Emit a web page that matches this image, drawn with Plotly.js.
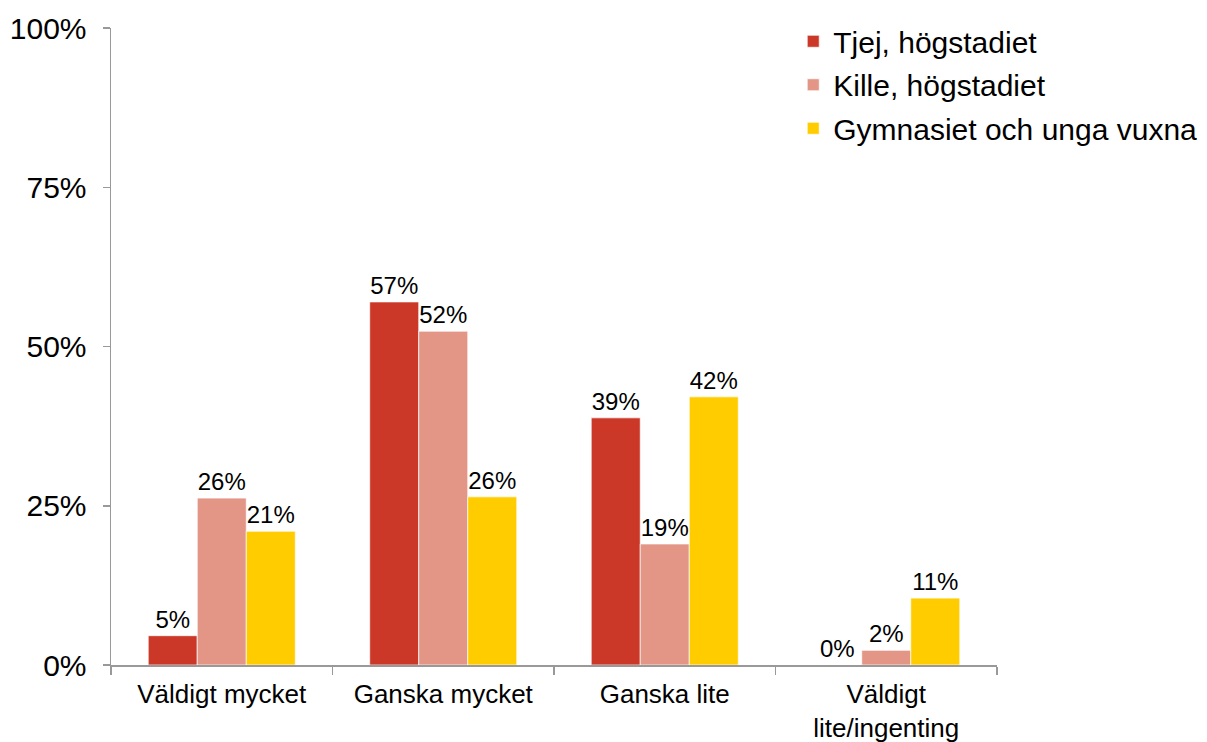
<!DOCTYPE html>
<html>
<head>
<meta charset="utf-8">
<script src="https://cdn.plot.ly/plotly-3.0.1.min.js"></script>
<style>html,body{margin:0;padding:0;background:#fff;}#chart{width:1207px;height:742px;}</style>
</head>
<body>
<div id="chart"></div>
<script>
var categories = ["Väldigt mycket", "Ganska mycket", "Ganska lite", "Väldigt<br>lite/ingenting"];
var seriesNames = ["Tjej, högstadiet", "Kille, högstadiet", "Gymnasiet och unga vuxna"];
var tjej = [0.046, 0.570, 0.388, 0.0];
var kille = [0.262, 0.524, 0.190, 0.023];
var gymnasiet = [0.210, 0.264, 0.421, 0.105];
var colors = ["#CB3828", "#E39586", "#FFCC00"];
var tickVals = [0, 0.25, 0.5, 0.75, 1];
var tickText = ["0%", "25%", "50%", "75%", "100%"];

var font = "Liberation Sans, Arial, Helvetica, sans-serif";
var values = [tjej, kille, gymnasiet];
var traces = values.map(function (v, i) {
  return {
    type: "bar",
    x: categories,
    y: v,
    name: seriesNames[i],
    legendgroup: "g" + i,
    marker: { color: colors[i], line: { color: "rgba(255,255,255,0.7)", width: 1 } },
    texttemplate: "%{y:.0%}",
    textposition: "outside",
    cliponaxis: false,
    textfont: { family: font, size: 24, color: "#000" },
    hoverinfo: "none"
  };
});

var layout = {
  width: 1207,
  height: 742,
  margin: { l: 111, r: 210, t: 28, b: 77, autoexpand: false },
  paper_bgcolor: "#fff",
  plot_bgcolor: "#fff",
  barmode: "group",
  bargap: 0.336,
  bargroupgap: 0,
  font: { family: font, color: "#000" },
  showlegend: true,
  legend: {
    x: 0.77, y: 1.02, xanchor: "left", yanchor: "top",
    font: { family: font, size: 30, color: "#000" },
    traceorder: "grouped",
    tracegroupgap: 1.5,
    bgcolor: "rgba(0,0,0,0)"
  },
  xaxis: {
    type: "category",
    range: [-0.5, 3.5],
    showline: true,
    linecolor: "#999",
    linewidth: 1.5,
    ticks: "outside",
    tickson: "boundaries",
    ticklen: 8,
    tickcolor: "#999",
    tickwidth: 1.5,
    showgrid: false,
    zeroline: false,
    ticklabelstandoff: 5,
    tickfont: { family: font, size: 26, color: "#000" },
    fixedrange: true
  },
  yaxis: {
    range: [0, 1],
    tickvals: tickVals,
    ticktext: tickText,
    showline: true,
    linecolor: "#999",
    linewidth: 1.5,
    ticks: "outside",
    ticklen: 7,
    tickcolor: "#999",
    tickwidth: 1.5,
    showgrid: false,
    zeroline: false,
    ticklabelstandoff: 10,
    tickfont: { family: font, size: 30, color: "#000" },
    fixedrange: true
  }
};

Plotly.newPlot("chart", traces, layout, { displayModeBar: false, staticPlot: true });
</script>
</body>
</html>
